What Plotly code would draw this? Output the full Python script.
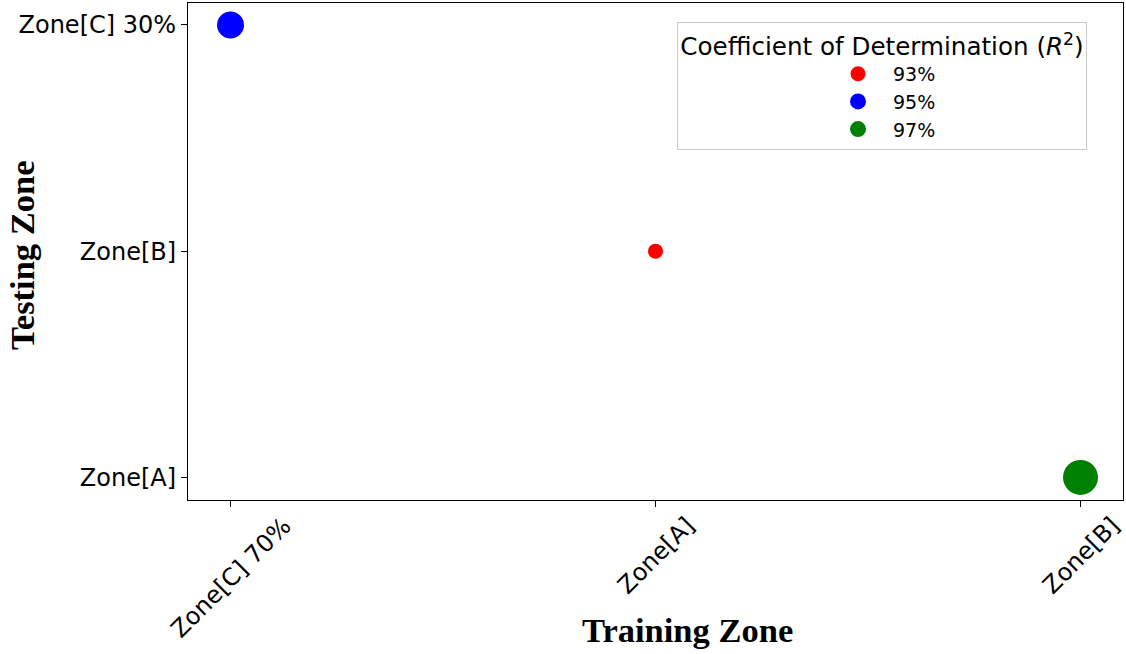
import plotly.graph_objects as go

train_labels = ["Zone[C] 70%", "Zone[A]", "Zone[B]"]
test_labels = ["Zone[A]", "Zone[B]", "Zone[C] 30%"]
series_names = ["93%", "95%", "97%"]
train_zone = ["Zone[A]", "Zone[C] 70%", "Zone[B]"]
test_zone = ["Zone[B]", "Zone[C] 30%", "Zone[A]"]
colors = ["red", "blue", "green"]
marker_sizes = [15, 27, 35]

fig = go.Figure()
for name, tx, ty, c, s in zip(series_names, train_zone, test_zone, colors, marker_sizes):
    fig.add_trace(go.Scatter(
        x=[train_labels.index(tx)], y=[test_labels.index(ty)],
        mode="markers", name=name,
        marker=dict(color=c, size=s, line=dict(width=0)),
    ))

tick_font = dict(family="DejaVu Sans", size=24, color="black")
fig.update_layout(
    width=1126, height=654,
    margin=dict(l=188, r=3, t=3, b=154),
    plot_bgcolor="white", paper_bgcolor="white",
    showlegend=True,
    legend=dict(
        title=dict(text="Coefficient of Determination (<i>R</i><sup>2</sup>)",
                   side="top center",
                   font=dict(family="DejaVu Sans", size=24.6, color="black")),
        font=dict(family="DejaVu Sans", size=19, color="black"),
        x=0.523, y=0.962, xanchor="left", yanchor="top",
        bordercolor="#cccccc", borderwidth=1, bgcolor="white",
        itemsizing="trace", itemwidth=60, indentation=145,
    ),
    xaxis=dict(
        range=[-0.1, 2.1], tickvals=[0, 1, 2], showticklabels=False,
        showgrid=False, zeroline=False, showline=True, linecolor="black",
        linewidth=1.2, mirror=True, ticks="outside", ticklen=6, tickcolor="black",
    ),
    yaxis=dict(
        range=[-0.1, 2.097], tickvals=[0, 1, 2], ticktext=test_labels,
        tickfont=tick_font,
        showgrid=False, zeroline=False, showline=True, linecolor="black",
        linewidth=1.2, mirror=True, ticks="outside", ticklen=6, tickcolor="black",
    ),
)

for i, lab in enumerate(train_labels):
    fig.add_annotation(
        x=i, xref="x", y=-0.018, yref="paper", text=lab, showarrow=False,
        textangle=-45, xanchor="center", yanchor="top", font=tick_font,
    )

title_font = dict(family="Liberation Serif", size=34.5, color="black")
fig.add_annotation(x=(687 - 188) / 935, xref="paper", y=(500 - 630) / 497, yref="paper",
                   xanchor="center", yanchor="middle",
                   text="<b>Training Zone</b>", showarrow=False, font=title_font)
fig.add_annotation(x=(22 - 188) / 935, xref="paper", y=(500 - 256) / 497, yref="paper",
                   xanchor="center", yanchor="middle",
                   text="<b>Testing Zone</b>", showarrow=False, textangle=-90,
                   font=title_font)

fig.write_html("out.html", config={"displayModeBar": False},
               post_script="document.body.style.margin='0';")
